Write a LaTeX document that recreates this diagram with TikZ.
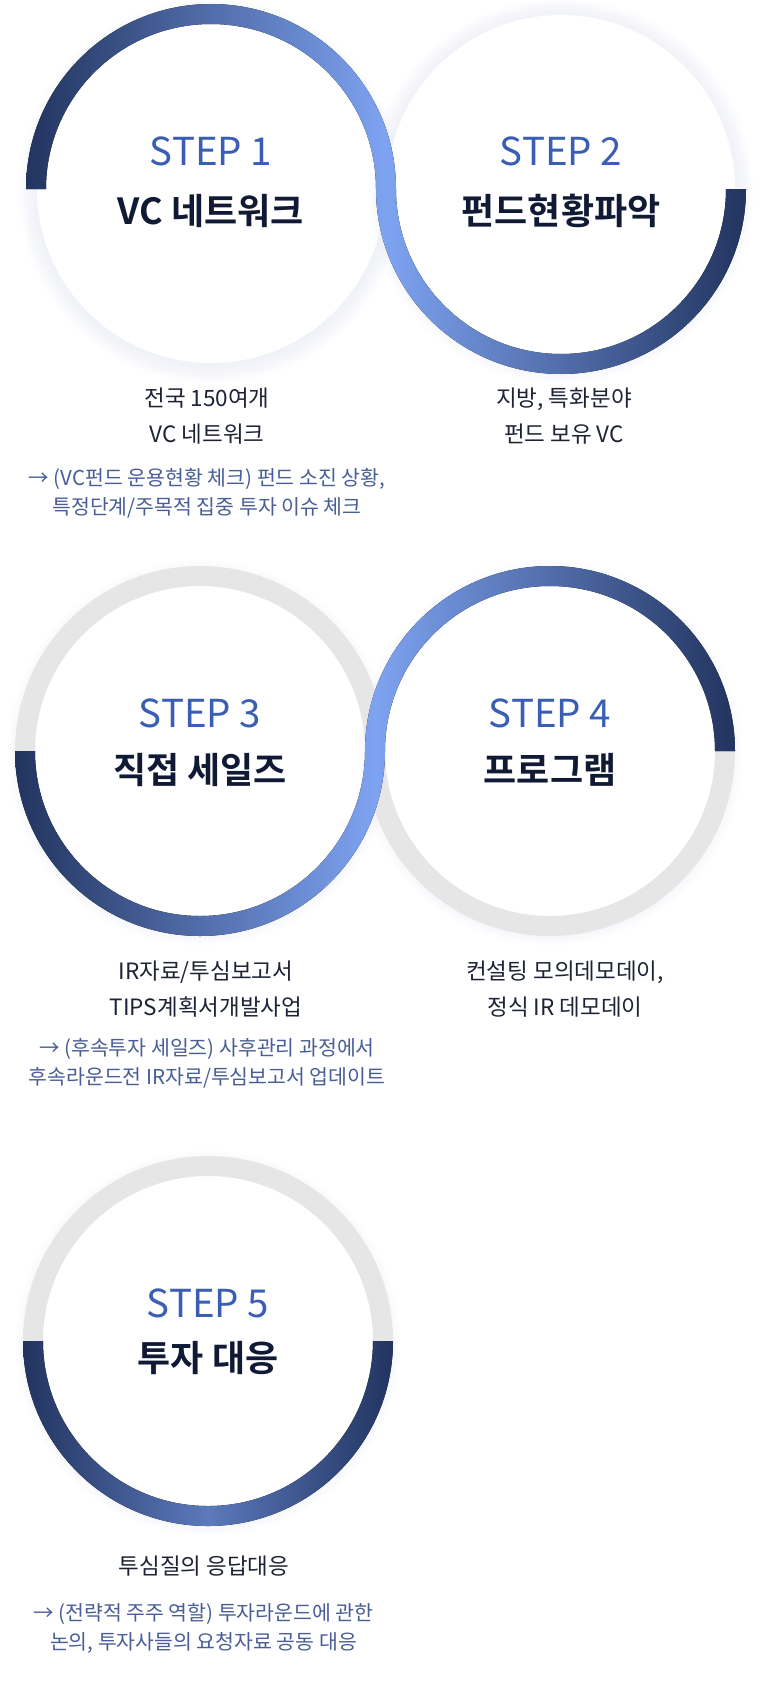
\documentclass[tikz,border=0pt]{standalone}
\usepackage{fontspec}
\setmainfont{Noto Sans CJK KR}[BoldFont={Noto Sans CJK KR Bold}]
\usetikzlibrary{calc}
\definecolor{ringDark}{HTML}{22345F}
\definecolor{ringLight}{HTML}{7EA3F1}
\definecolor{ringMid}{HTML}{5B79BC}
\definecolor{ringGray}{HTML}{E6E6E6}
\definecolor{haloTint}{HTML}{E2E7F7}
\definecolor{stepBlue}{HTML}{3A5EB4}
\definecolor{titleInk}{HTML}{101A35}
\definecolor{descInk}{HTML}{1D2334}
\definecolor{noteInk}{HTML}{495E97}

\begin{document}
\begin{tikzpicture}[x=1pt, y=1pt,
    disk/.style={fill=white},
    halo/.style={fill=haloTint, opacity=0.07},
    grayring/.style={draw=ringGray, line width=20pt},
    sring/.style={left color=ringDark, right color=ringDark, middle color=ringLight},
    steplabel/.style={text=stepBlue, font=\fontsize{38.5}{38.5}\selectfont},
    steptitle/.style={text=titleInk, font=\bfseries\fontsize{36}{36}\selectfont},
    desc/.style={text=descInk, align=center, font=\fontsize{22.5}{36}\selectfont},
    note/.style={text=noteInk, align=center, font=\fontsize{20.5}{29}\selectfont}]
  \fill[white] (0,0) rectangle (767,-1694);
  \useasboundingbox (0,0) rectangle (767,-1694);
  % circle centres
  \coordinate (c1) at (211,-189);
  \coordinate (c2) at (561,-189);
  \coordinate (c3) at (200,-751);
  \coordinate (c4) at (550,-751);
  \coordinate (c5) at (208,-1341);
  % soft halo and white body
  \foreach \c in {c1,c2,c3,c4,c5} {
    \foreach \i in {1,...,8}
      \fill[halo] ($(\c)+(0,-2)$) circle[radius=172+2.5*\i];
    \fill[disk] (\c) circle[radius=174];
  }
  % grey halves
  \draw[grayring] ($(c3)+(-175,0)$) arc[start angle=180, end angle=0, radius=175];
  \draw[grayring] ($(c4)+(-175,0)$) arc[start angle=180, end angle=360, radius=175];
  \draw[grayring] ($(c5)+(-175,0)$) arc[start angle=180, end angle=0, radius=175];
  % shaded rings
  \fill[sring]
    ($(c1)+(-185,0)$) arc[start angle=180, end angle=0, radius=185] -- ++(-20,0)
      arc[start angle=0, end angle=180, radius=165] -- cycle
    ($(c2)+(-185,0)$) arc[start angle=180, end angle=360, radius=185] -- ++(-20,0)
      arc[start angle=360, end angle=180, radius=165] -- cycle;
  \fill[sring]
    ($(c3)+(-185,0)$) arc[start angle=180, end angle=360, radius=185] -- ++(-20,0)
      arc[start angle=360, end angle=180, radius=165] -- cycle
    ($(c4)+(-185,0)$) arc[start angle=180, end angle=0, radius=185] -- ++(-20,0)
      arc[start angle=0, end angle=180, radius=165] -- cycle;
  \fill[sring, middle color=ringMid]
    ($(c5)+(-185,0)$) arc[start angle=180, end angle=360, radius=185] -- ++(-20,0)
      arc[start angle=360, end angle=180, radius=165] -- cycle;
  % step labels and titles
  \node[steplabel] (s1) at ($(c1)+(0,38)$) {STEP 1};
  \node[steptitle] (t1) at ($(c1)+(0,-22)$) {VC 네트워크};
  \node[steplabel] (s2) at ($(c2)+(0,38)$) {STEP 2};
  \node[steptitle] (t2) at ($(c2)+(0,-22)$) {펀드현황파악};
  \node[steplabel] (s3) at ($(c3)+(0,38)$) {STEP 3};
  \node[steptitle] (t3) at ($(c3)+(0,-19)$) {직접 세일즈};
  \node[steplabel] (s4) at ($(c4)+(0,38)$) {STEP 4};
  \node[steptitle] (t4) at ($(c4)+(0,-19)$) {프로그램};
  \node[steplabel] (s5) at ($(c5)+(0,38)$) {STEP 5};
  \node[steptitle] (t5) at ($(c5)+(0,-17)$) {투자 대응};
  % descriptions
  \node[desc] (d1) at (207,-416) {전국 150여개\\VC 네트워크};
  \node[desc] (d2) at (564,-416) {지방, 특화분야\\펀드 보유 VC};
  \node[note] (n1) at (207,-493.5) {→ (VC펀드 운용현황 체크) 펀드 소진 상황,\\특정단계/주목적 집중 투자 이슈 체크};
  \node[desc] (d3) at (206,-989.5) {IR자료/투심보고서\\TIPS계획서개발사업};
  \node[desc] (d4) at (565,-989.5) {컨설팅 모의데모데이,\\정식 IR 데모데이};
  \node[note] (n3) at (207,-1063.5) {→ (후속투자 세일즈) 사후관리 과정에서\\후속라운드전 IR자료/투심보고서 업데이트};
  \node[desc] (d5) at (204,-1566) {투심질의 응답대응};
  \node[note] (n5) at (203.5,-1628.5) {→ (전략적 주주 역할) 투자라운드에 관한\\논의, 투자사들의 요청자료 공동 대응};
\end{tikzpicture}
\end{document}
